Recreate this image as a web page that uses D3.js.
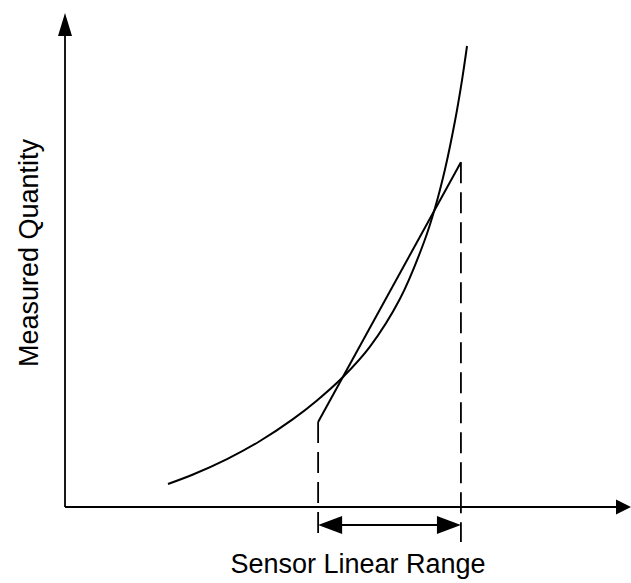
<!DOCTYPE html>
<html>
<head>
<meta charset="utf-8">
<script src="https://cdn.jsdelivr.net/npm/d3@7"></script>
<style>
  html, body { margin: 0; padding: 0; background: #fff; }
  svg { display: block; }
  text { font-family: "Liberation Sans", Arial, Helvetica, sans-serif; fill: #000; }
</style>
</head>
<body>
<svg id="chart" width="631" height="583"></svg>
<script>
// ---- Data (arbitrary units, 0..100 on both axes) ----
const curveX = [18.39, 22.86, 28.93, 34.82, 40.71, 45.0, 49.64, 54.46, 59.82, 64.11, 66.07, 67.86, 69.64, 70.89, 71.79];
const curveY = [4.66, 6.58, 9.70, 13.36, 17.79, 21.58, 26.32, 32.47, 42.15, 53.64, 60.53, 68.38, 78.14, 86.38, 93.32];
const rangeX = [45.2, 70.7];          // sensor linear range (start, end)
const fitY = [17.2, 69.8];            // linear approximation values at range ends
const xLabel = "Sensor Linear Range";
const yLabel = "Measured Quantity";

// ---- Scales ----
const x = d3.scaleLinear().domain([0, 100]).range([65, 625]);
const y = d3.scaleLinear().domain([0, 100]).range([507, 13]);

const svg = d3.select("#chart");
const g = svg.append("g");

// Axes (no ticks)
const x0 = x(0), y0 = y(0);
const xEnd = 631, yEnd = y(100);
g.append("line").attr("x1", x0).attr("y1", y0).attr("x2", xEnd - 12).attr("y2", y0)
  .attr("stroke", "#000").attr("stroke-width", 1.8);
g.append("line").attr("x1", x0).attr("y1", y0).attr("x2", x0).attr("y2", yEnd + 18)
  .attr("stroke", "#000").attr("stroke-width", 1.8);
// Axis arrowheads
g.append("path")
  .attr("d", `M${x0},${yEnd} L${x0 - 7},${yEnd + 23} L${x0 + 7},${yEnd + 23} Z`)
  .attr("fill", "#000");
g.append("path")
  .attr("d", `M${xEnd},${y0} L${xEnd - 15},${y0 - 7.5} L${xEnd - 15},${y0 + 7.5} Z`)
  .attr("fill", "#000");

// Nonlinear curve
const pts = curveX.map((d, i) => [d, curveY[i]]);
const line = d3.line().x(d => x(d[0])).y(d => y(d[1])).curve(d3.curveCatmullRom.alpha(0.5));
g.append("path").datum(pts).attr("d", line)
  .attr("fill", "none").attr("stroke", "#000").attr("stroke-width", 2);

// Linear approximation
const fitPts = [[rangeX[0], fitY[0]], [rangeX[1], fitY[1]]];
g.append("path").datum(fitPts).attr("d", d3.line().x(d => x(d[0])).y(d => y(d[1])))
  .attr("fill", "none").attr("stroke", "#000").attr("stroke-width", 2);

// Dashed verticals
const arrowY = 525, dashBottom = 542;
rangeX.forEach((rx, i) => {
  g.append("line")
    .attr("x1", x(rx)).attr("x2", x(rx))
    .attr("y1", y(fitY[i])).attr("y2", dashBottom)
    .attr("stroke", "#000").attr("stroke-width", 1.8)
    .attr("stroke-dasharray", "21,9");
});

// Double-headed range arrow
const ax1 = x(rangeX[0]), ax2 = x(rangeX[1]);
g.append("line").attr("x1", ax1 + 20).attr("x2", ax2 - 20).attr("y1", arrowY).attr("y2", arrowY)
  .attr("stroke", "#000").attr("stroke-width", 2);
g.append("path")
  .attr("d", `M${ax1},${arrowY} L${ax1 + 24},${arrowY - 9} L${ax1 + 24},${arrowY + 9} Z`)
  .attr("fill", "#000");
g.append("path")
  .attr("d", `M${ax2},${arrowY} L${ax2 - 24},${arrowY - 9} L${ax2 - 24},${arrowY + 9} Z`)
  .attr("fill", "#000");

// Labels
g.append("text").attr("x", 358).attr("y", 573).attr("text-anchor", "middle")
  .attr("font-size", 27).text(xLabel);
g.append("text").attr("transform", "translate(38,253) rotate(-90)")
  .attr("text-anchor", "middle").attr("font-size", 27).text(yLabel);
</script>
</body>
</html>
